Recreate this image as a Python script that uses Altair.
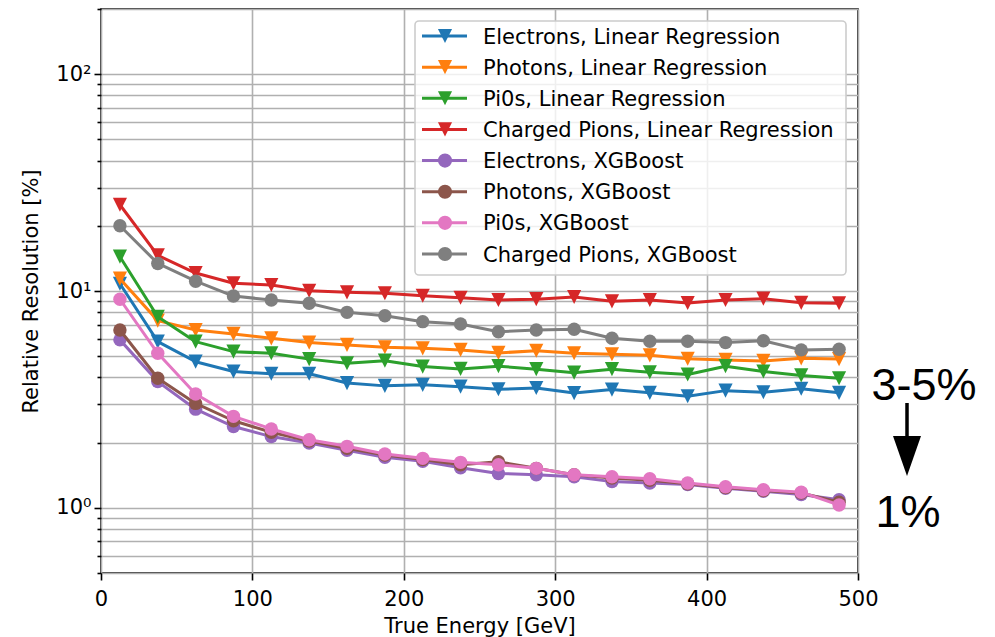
import altair as alt
import pandas as pd

# Bin centres of true energy [GeV]
energy = [12.5, 37.5, 62.5, 87.5, 112.5, 137.5, 162.5, 187.5, 212.5, 237.5,
          262.5, 287.5, 312.5, 337.5, 362.5, 387.5, 412.5, 437.5, 462.5, 487.5]

# Relative resolution [%] per bin
electrons_lr = [10.8, 5.84, 4.72, 4.25, 4.15, 4.15, 3.76, 3.65, 3.69, 3.62,
                3.52, 3.57, 3.38, 3.51, 3.39, 3.27, 3.47, 3.41, 3.54, 3.39]
photons_lr = [11.4, 7.3, 6.61, 6.34, 6.05, 5.78, 5.64, 5.50, 5.44, 5.35,
              5.18, 5.30, 5.16, 5.11, 5.05, 4.87, 4.81, 4.76, 4.89, 4.85]
pi0s_lr = [14.4, 7.61, 5.84, 5.25, 5.16, 4.85, 4.64, 4.77, 4.48, 4.37,
           4.50, 4.36, 4.20, 4.36, 4.22, 4.12, 4.50, 4.25, 4.08, 3.96]
charged_lr = [25.0, 14.6, 12.1, 10.85, 10.66, 10.03, 9.86, 9.76, 9.51, 9.31,
              9.09, 9.17, 9.38, 8.96, 9.09, 8.80, 9.09, 9.22, 8.82, 8.78]
electrons_xgb = [5.95, 3.82, 2.85, 2.37, 2.13, 1.99, 1.84, 1.71, 1.64, 1.53,
                 1.44, 1.42, 1.39, 1.32, 1.30, 1.28, 1.23, 1.19, 1.15, 1.09]
photons_xgb = [6.61, 3.96, 3.03, 2.52, 2.23, 2.03, 1.88, 1.75, 1.67, 1.58,
               1.63, 1.52, 1.42, 1.37, 1.34, 1.29, 1.24, 1.20, 1.17, 1.06]
pi0s_xgb = [9.16, 5.16, 3.35, 2.64, 2.31, 2.06, 1.92, 1.77, 1.69, 1.62,
            1.58, 1.52, 1.42, 1.39, 1.36, 1.30, 1.25, 1.21, 1.18, 1.03]
charged_xgb = [20.0, 13.4, 11.1, 9.48, 9.09, 8.78, 7.97, 7.69, 7.22, 7.04,
               6.49, 6.61, 6.66, 6.05, 5.86, 5.86, 5.78, 5.89, 5.35, 5.39]

labels = [
    "Electrons, Linear Regression",
    "Photons, Linear Regression",
    "Pi0s, Linear Regression",
    "Charged Pions, Linear Regression",
    "Electrons, XGBoost",
    "Photons, XGBoost",
    "Pi0s, XGBoost",
    "Charged Pions, XGBoost",
]
series = [electrons_lr, photons_lr, pi0s_lr, charged_lr,
          electrons_xgb, photons_xgb, pi0s_xgb, charged_xgb]
colors = ["#1f77b4", "#ff7f0e", "#2ca02c", "#d62728",
          "#9467bd", "#8c564b", "#e377c2", "#7f7f7f"]

TRI_DOWN = "M-1,-1L1,-1L0,1Z"
shapes = [TRI_DOWN] * 4 + ["circle"] * 4
sizes = [200] * 4 + [180] * 4

y_ticks = [0.5, 0.6, 0.7, 0.8, 0.9,
           1, 2, 3, 4, 5, 6, 7, 8, 9,
           10, 20, 30, 40, 50, 60, 70, 80, 90,
           100, 200]
x_ticks = [0, 100, 200, 300, 400, 500]

FONT = "DejaVu Sans"
FS = 21
GRID = "#b0b0b0"
W, H = 757, 564

x_axis = alt.Axis(
    values=x_ticks, title="True Energy [GeV]", grid=True, gridColor=GRID,
    gridWidth=1.6, domain=False, tickSize=7, tickWidth=1.6, tickColor="black",
    labelFont=FONT, labelFontSize=FS, labelColor="black", labelPadding=8,
    labelFlush=False, labelOverlap=False,
    titleFont=FONT, titleFontSize=FS, titleFontWeight="normal", titleColor="black",
    titleBaseline="alphabetic", titleY=59,
)

y_axis = alt.Axis(
    values=y_ticks, title="Relative Resolution [%]", grid=True, gridColor=GRID,
    gridWidth=1.6, domain=False, tickWidth=1.6, tickColor="black",
    tickSize={"condition": {"test": "indexof([1, 10, 100], datum.value) >= 0", "value": 7},
              "value": 4},
    labelExpr="datum.value == 1 ? '10⁰' : datum.value == 10 ? '10¹' : datum.value == 100 ? '10²' : ''",
    labelFont=FONT, labelFontSize=FS, labelColor="black", labelPadding=3,
    labelFlush=False, labelOverlap=False, labelBaseline="middle",
    titleFont=FONT, titleFontSize=FS, titleFontWeight="normal", titleColor="black",
    titleAngle=-90, titleBaseline="alphabetic", titleAlign="center",
    titleX=-64, titleY=H / 2,
)

x_scale = alt.Scale(domain=[0, 500], nice=False, zero=False)
y_scale = alt.Scale(type="log", domain=[0.5, 200], nice=False)

layers = []
for i, (lab, vals, col, shp, sz) in enumerate(zip(labels, series, colors, shapes, sizes)):
    df = pd.DataFrame({"energy": energy, "res": vals})
    x_enc = alt.X("energy:Q", scale=x_scale, axis=x_axis)
    line = alt.Chart(df).mark_line(color=col, strokeWidth=3, strokeJoin="round").encode(
        x=x_enc, y=alt.Y("res:Q", scale=y_scale, axis=y_axis if i == 0 else None))
    pts = alt.Chart(df).mark_point(filled=True, shape=shp, size=sz, color=col, opacity=1).encode(
        x=x_enc, y=alt.Y("res:Q", scale=y_scale, axis=None))
    layers += [line, pts]

# Legend box and entries
leg_df = pd.DataFrame({"label": labels})
leg_y = alt.Y("label:N", sort=labels,
              scale=alt.Scale(type="point", domain=labels, range=[27, 245], padding=0),
              axis=None)
leg_color = alt.Color("label:N", scale=alt.Scale(domain=labels, range=colors), legend=None)
leg_shape = alt.Shape("label:N", scale=alt.Scale(domain=labels, range=shapes), legend=None)
leg_size = alt.Size("label:N", scale=alt.Scale(domain=labels, range=sizes), legend=None)

box = alt.Chart(pd.DataFrame({"k": [0]})).mark_rect(
    cornerRadius=4, fill="white", fillOpacity=0.8, stroke="#cccccc", strokeWidth=1.6
).encode(x=alt.value(314), x2=alt.value(745), y=alt.value(12), y2=alt.value(266))

leg_lines = alt.Chart(leg_df).mark_rule(strokeWidth=3).encode(
    x=alt.value(321), x2=alt.value(366), y=leg_y, color=leg_color)
leg_pts = alt.Chart(leg_df).mark_point(filled=True, opacity=1).encode(
    x=alt.value(344), y=leg_y, color=leg_color, shape=leg_shape, size=leg_size)
leg_text = alt.Chart(leg_df).mark_text(
    align="left", baseline="middle", font=FONT, fontSize=FS, color="black", dy=1.5
).encode(x=alt.value(382), y=leg_y, text="label:N")

# Side note on the improvement
note_df = pd.DataFrame({"k": [0]})
note_top = alt.Chart(note_df).mark_text(
    text="3-5%", font="Liberation Sans", fontSize=45, align="center",
    baseline="alphabetic", color="black"
).encode(x=alt.value(823), y=alt.value(391))
note_bottom = alt.Chart(note_df).mark_text(
    text="1%", font="Liberation Sans", fontSize=45, align="center",
    baseline="alphabetic", color="black"
).encode(x=alt.value(807), y=alt.value(518))
arrow_shaft = alt.Chart(note_df).mark_rule(color="black", strokeWidth=3.5).encode(
    x=alt.value(806), y=alt.value(394), y2=alt.value(430))
arrow_head = alt.Chart(note_df).mark_point(
    shape="M-0.7,-1L0.7,-1L0,1Z", size=1600, filled=True, color="black", opacity=1
).encode(x=alt.value(806), y=alt.value(447))

chart = alt.layer(
    *layers, box, leg_lines, leg_pts, leg_text,
    note_top, note_bottom, arrow_shaft, arrow_head
).resolve_scale(
    y="independent"
).properties(
    width=W, height=H,
    autosize=alt.AutoSizeParams(type="none"),
    padding={"left": 101, "top": 9, "right": 137, "bottom": 64},
    background="white",
).configure_view(
    stroke="black", strokeWidth=1.6
)

chart.save("out.html", embed_options={"renderer": "svg", "actions": False})
